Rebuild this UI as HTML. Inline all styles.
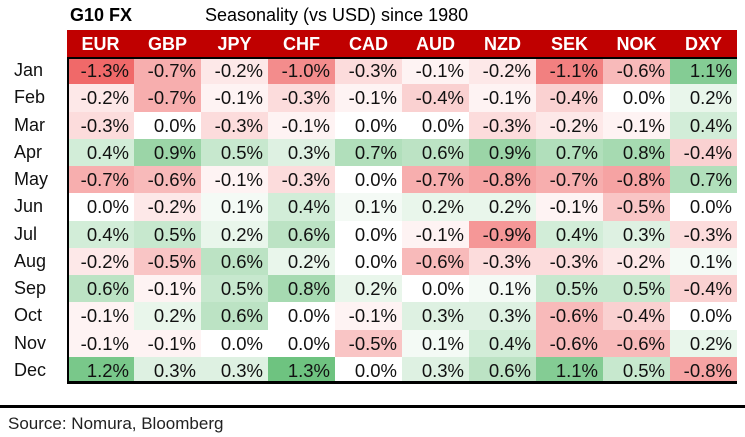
<!DOCTYPE html>
<html><head><meta charset="utf-8"><style>
body{margin:0;width:745px;height:437px;background:#fff;font-family:"Liberation Sans",Arial,sans-serif;position:relative;overflow:hidden}
.t{position:absolute;white-space:nowrap}
#hdr{position:absolute;left:67px;top:30px;width:670px;height:27px;background:#c00000}
.hc{position:absolute;top:0;height:27px;line-height:28px;width:67px;text-align:center;color:#fff;font-weight:bold;font-size:18px}
#body{position:absolute;left:67px;top:57px;width:670px;height:327px;border-left:2px solid #000;border-top:2px solid #000;border-bottom:3px solid #000;box-sizing:border-box}
.c{position:absolute;height:27.25px;line-height:27px;width:67px;text-align:right;padding-right:5px;box-sizing:border-box;font-size:18.5px;color:#111}
.m{position:absolute;left:14px;font-size:18px;color:#111;line-height:27px}
</style></head><body>
<div class="t" style="left:70px;top:5px;font-weight:bold;font-size:18px">G10 FX</div>
<div class="t" style="left:205px;top:5px;font-size:18px">Seasonality (vs USD) since 1980</div>
<div id="hdr"></div>
<div id="body"></div>
<div style="position:absolute;left:0;top:405px;width:745px;height:3px;background:#000"></div>
<div class="t" style="left:8px;top:414px;font-size:17px;color:#222">Source: Nomura, Bloomberg</div>
<script>
const currencies=["EUR","GBP","JPY","CHF","CAD","AUD","NZD","SEK","NOK","DXY"];
const months=["Jan","Feb","Mar","Apr","May","Jun","Jul","Aug","Sep","Oct","Nov","Dec"];
const jan=[-1.3,-0.7,-0.2,-1.0,-0.3,-0.1,-0.2,-1.1,-0.6,1.1];
const feb=[-0.2,-0.7,-0.1,-0.3,-0.1,-0.4,-0.1,-0.4,0.0,0.2];
const mar=[-0.3,0.0,-0.3,-0.1,0.0,0.0,-0.3,-0.2,-0.1,0.4];
const apr=[0.4,0.9,0.5,0.3,0.7,0.6,0.9,0.7,0.8,-0.4];
const may=[-0.7,-0.6,-0.1,-0.3,0.0,-0.7,-0.8,-0.7,-0.8,0.7];
const jun=[0.0,-0.2,0.1,0.4,0.1,0.2,0.2,-0.1,-0.5,0.0];
const jul=[0.4,0.5,0.2,0.6,0.0,-0.1,-0.9,0.4,0.3,-0.3];
const aug=[-0.2,-0.5,0.6,0.2,0.0,-0.6,-0.3,-0.3,-0.2,0.1];
const sep=[0.6,-0.1,0.5,0.8,0.2,0.0,0.1,0.5,0.5,-0.4];
const oct=[-0.1,0.2,0.6,0.0,-0.1,0.3,0.3,-0.6,-0.4,0.0];
const nov=[-0.1,-0.1,0.0,0.0,-0.5,0.1,0.4,-0.6,-0.6,0.2];
const dec=[1.2,0.3,0.3,1.3,0.0,0.3,0.6,1.1,0.5,-0.8];
const values=[jan,feb,mar,apr,may,jun,jul,aug,sep,oct,nov,dec];

const X0=67,Y0=57,CW=67,RH=327/12,VMAX=1.3;
const hdr=document.getElementById('hdr');
currencies.forEach((c,i)=>{
  const d=document.createElement('div');d.className='hc';
  d.style.left=(i*CW)+'px';d.textContent=c;
  
  
  hdr.appendChild(d);
});
function color(v){
  const t=Math.min(1,Math.abs(v)/VMAX);
  if(v>0) return `rgb(${Math.round(255-t*(255-110))},${Math.round(255-t*(255-195))},${Math.round(255-t*(255-128))})`;
  if(v<0) return `rgb(${Math.round(255-t*(255-240))},${Math.round(255-t*(255-105))},${Math.round(255-t*(255-105))})`;
  return '#fff';
}
const bodyEl=document.getElementById('body');
months.forEach((m,i)=>{
  const l=document.createElement('div');l.className='m';
  l.style.top=(Y0+i*RH)+'px';l.textContent=m;
  
  
  document.body.appendChild(l);
  values[i].forEach((v,j)=>{
    const c=document.createElement('div');c.className='c';
    c.style.left=(X0+j*CW)+'px';c.style.top=(Y0+i*RH)+'px';
    c.style.background=color(v);
    c.textContent=v.toFixed(1)+'%';
    
    
    document.body.insertBefore(c,bodyEl);
  });
});
</script>
</body></html>
